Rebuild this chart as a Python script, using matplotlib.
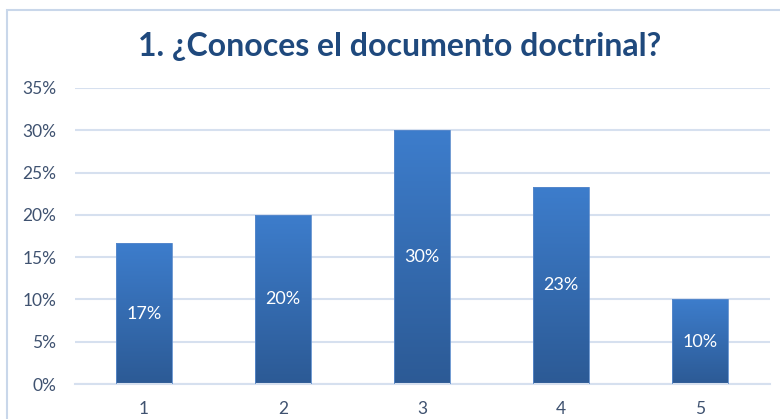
import matplotlib.pyplot as plt
import numpy as np
from matplotlib.patches import Rectangle
from matplotlib.colors import LinearSegmentedColormap

categories = ['1', '2', '3', '4', '5']
values = [0.1667, 0.20, 0.30, 0.2333, 0.10]
labels = ['17%', '20%', '30%', '23%', '10%']
yticks = [0, 0.05, 0.10, 0.15, 0.20, 0.25, 0.30, 0.35]
ytick_labels = ['0%', '5%', '10%', '15%', '20%', '25%', '30%', '35%']
title = '1. ¿Conoces el documento doctrinal?'

plt.rcParams['font.family'] = ['Lato', 'DejaVu Sans']

fig = plt.figure(figsize=(7.8, 4.19), dpi=100)
fig.patches.append(Rectangle((7 / 780, -0.1), 1.2, (419 - 10) / 419 + 0.1,
                             transform=fig.transFigure, fill=False,
                             edgecolor='#C9D7EA', linewidth=1.5))

ax = fig.add_axes([74.5 / 780, 35 / 419, 695 / 780, 296 / 419])
x = np.arange(len(categories))
bars = ax.bar(x, values, width=0.4, color='none', edgecolor='#5A8ACB',
              linewidth=0.6, zorder=3)

# vertical gradient in each bar
grad = np.linspace(0, 1, 256).reshape(-1, 1)
cmap = LinearSegmentedColormap.from_list('bluegrad', ['#2C5A95', '#3D7DCC'])
for b in bars:
    x0, y0 = b.get_x(), b.get_y()
    w, h = b.get_width(), b.get_height()
    im = ax.imshow(grad, cmap=cmap, origin='lower', aspect='auto',
                   extent=[x0, x0 + w, y0, y0 + h], zorder=2)
    im.set_clip_path(b)

for xi, v, lab in zip(x, values, labels):
    ax.text(xi, v / 2, lab, ha='center', va='center', color='white',
            fontsize=13, zorder=4)

ax.set_xlim(-0.5, len(categories) - 0.5)
ax.set_ylim(0, 0.35)
ax.set_yticks(yticks)
ax.set_yticklabels(ytick_labels)
ax.set_xticks(x)
ax.set_xticklabels(categories)
ax.tick_params(length=0, labelsize=12.5, labelcolor='#3F5270')
ax.tick_params(axis='y', pad=13)
ax.tick_params(axis='x', pad=12)
ax.grid(axis='y', color='#D6E0EF', linewidth=1.5, zorder=0)
ax.set_axisbelow(True)
for s in ['top', 'right', 'left']:
    ax.spines[s].set_visible(False)
ax.spines['bottom'].set_color('#D6E0EF')
ax.spines['bottom'].set_linewidth(1.5)

fig.text(400 / 780, 1 - 46 / 419, title, ha='center', va='center',
         fontsize=23, fontweight='bold', color='#1F497D')

fig.savefig('out.png', dpi=100)
